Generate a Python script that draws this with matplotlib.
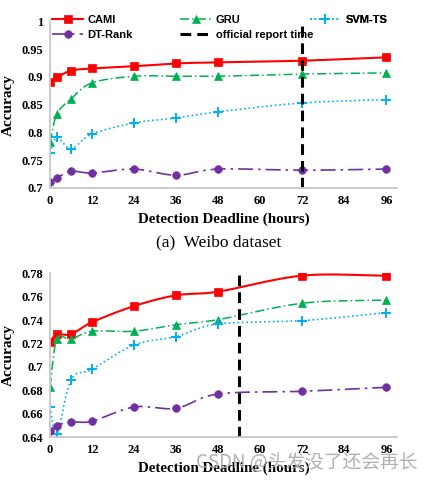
import numpy as np
import matplotlib
matplotlib.use('Agg')
import matplotlib.pyplot as plt

hours = [0, 2, 6, 12, 24, 36, 48, 72, 96]
xticks = [0, 12, 24, 36, 48, 60, 72, 84, 96]

# Weibo dataset
weibo_cami = [0.891, 0.899, 0.911, 0.915, 0.919, 0.924, 0.926, 0.929, 0.935]
weibo_gru = [0.782, 0.833, 0.860, 0.889, 0.901, 0.901, 0.901, 0.905, 0.907]
weibo_svm = [0.763, 0.791, 0.771, 0.797, 0.817, 0.826, 0.837, 0.853, 0.859]
weibo_dt = [0.710, 0.718, 0.730, 0.727, 0.734, 0.723, 0.734, 0.732, 0.734]
weibo_report = 72

# second dataset
tw_cami = [0.7216, 0.7279, 0.728, 0.7382, 0.752, 0.7612, 0.7643, 0.778, 0.778]
tw_gru = [0.6832, 0.7239, 0.7237, 0.7305, 0.7305, 0.7361, 0.7404, 0.7544, 0.7572]
tw_svm = [0.6656, 0.6428, 0.6889, 0.698, 0.7188, 0.7259, 0.7367, 0.7395, 0.7464]
tw_dt = [0.6456, 0.6499, 0.653, 0.6536, 0.6658, 0.6647, 0.6769, 0.6792, 0.6826]
tw_report = 54


def smooth(x, y, n=24):
    # catmull-rom, like excel's smoothed lines
    x = np.asarray(x, float)
    y = np.asarray(y, float)
    px = np.concatenate([[2 * x[0] - x[1]], x, [2 * x[-1] - x[-2]]])
    py = np.concatenate([[2 * y[0] - y[1]], y, [2 * y[-1] - y[-2]]])
    xs, ys = [], []
    t = np.linspace(0, 1, n)
    for i in range(1, len(px) - 2):
        for p, out in ((px, xs), (py, ys)):
            p0, p1, p2, p3 = p[i - 1], p[i], p[i + 1], p[i + 2]
            out.extend(0.5 * (2 * p1 + (-p0 + p2) * t + (2 * p0 - 5 * p1 + 4 * p2 - p3) * t ** 2
                              + (-p0 + 3 * p1 - 3 * p2 + p3) * t ** 3))
    return xs, ys


styles = [
    ('CAMI', '#ff0000', '-', 's', 5.5, 1.5),
    ('GRU', '#00b050', (0, (6, 2, 1, 2)), '^', 6, 1.1),
    ('SVM-TS', '#00b0f0', ':', '+', 7, 1.2),
    ('DT-Rank', '#7030a0', (0, (9, 3, 1.5, 3)), 'o', 5.5, 1.2),
]

serif = 'Liberation Serif'
fig = plt.figure(figsize=(4.38, 4.82), dpi=100)
ax1 = fig.add_axes([0.114, 0.610, 0.792, 0.346])
ax2 = fig.add_axes([0.114, 0.093, 0.792, 0.340])


def draw(ax, series, report, ylim, yticks, ylabels):
    handles = []
    for (name, c, ls, mk, ms, lw), ys in zip(styles, series):
        sx, sy = smooth(hours, ys)
        ax.plot(sx, sy, color=c, linestyle=ls, lw=lw)
        ax.plot(hours, ys, linestyle='none', marker=mk, color=c, ms=ms,
                markeredgewidth=1.4 if mk == '+' else 0.5)
        h, = ax.plot([], [], color=c, linestyle=ls, lw=lw, marker=mk, ms=ms,
                     markeredgewidth=1.4 if mk == '+' else 0.5, label=name)
        handles.append(h)
    vl = ax.axvline(report, color='black', linestyle=(0, (3.5, 2)), lw=2.2,
                    label='official report time')
    handles.append(vl)
    ax.set_xlim(0, 99)
    ax.set_ylim(*ylim)
    ax.set_xticks(xticks)
    ax.set_xticklabels([str(v) for v in xticks], fontfamily=serif, fontweight='bold', fontsize=9)
    ax.set_yticks(yticks)
    ax.set_yticklabels(ylabels, fontfamily=serif, fontweight='bold', fontsize=9)
    ax.tick_params(length=0, pad=5)
    for s in ['top', 'right']:
        ax.spines[s].set_visible(False)
    for s in ['left', 'bottom']:
        ax.spines[s].set_color('#c8c8c8')
        ax.spines[s].set_linewidth(1.3)
    ax.set_ylabel('Accuracy', fontfamily=serif, fontweight='bold', fontsize=11)
    ax.yaxis.set_label_coords(-0.1, 0.5)
    ax.set_xlabel('Detection Deadline (hours)', fontfamily=serif, fontweight='bold',
                  fontsize=10.8, labelpad=4)
    return handles


h = draw(ax1, [weibo_cami, weibo_gru, weibo_svm, weibo_dt], weibo_report,
         (0.7, 1.0), [0.7, 0.75, 0.8, 0.85, 0.9, 0.95, 1.0],
         ['0.7', '0.75', '0.8', '0.85', '0.9', '0.95', '1'])
draw(ax2, [tw_cami, tw_gru, tw_svm, tw_dt], tw_report,
     (0.64, 0.78), [0.64, 0.66, 0.68, 0.7, 0.72, 0.74, 0.76, 0.78],
     ['0.64', '0.66', '0.68', '0.7', '0.72', '0.74', '0.76', '0.78'])

# excel-style legend: three evenly placed columns
cols = [([h[0], h[3]], 0.006), ([h[1], h[4]], 0.375), ([h[2]], 0.749)]
for hs, x0 in cols:
    lg = ax1.legend(handles=hs, labels=[x.get_label() for x in hs], loc='upper left',
                    bbox_to_anchor=(x0, 1.035), frameon=False, borderpad=0, borderaxespad=0,
                    prop={'family': 'Liberation Sans', 'weight': 'bold', 'size': 8},
                    handlelength=2.8, labelspacing=0.42, handletextpad=0.4)
    ax1.add_artist(lg)

fig.text(0.5, 0.497, '(a)  Weibo dataset', ha='center', va='center',
         fontfamily=serif, fontsize=12.5)
fig.text(0.70, 0.040, 'CSDN @头发没了还会再长', ha='center', va='center', fontsize=13.5,
         color='#a8a8a8', alpha=0.9, family=['Noto Sans CJK SC', 'DejaVu Sans'])

fig.savefig('out.png', dpi=100)
